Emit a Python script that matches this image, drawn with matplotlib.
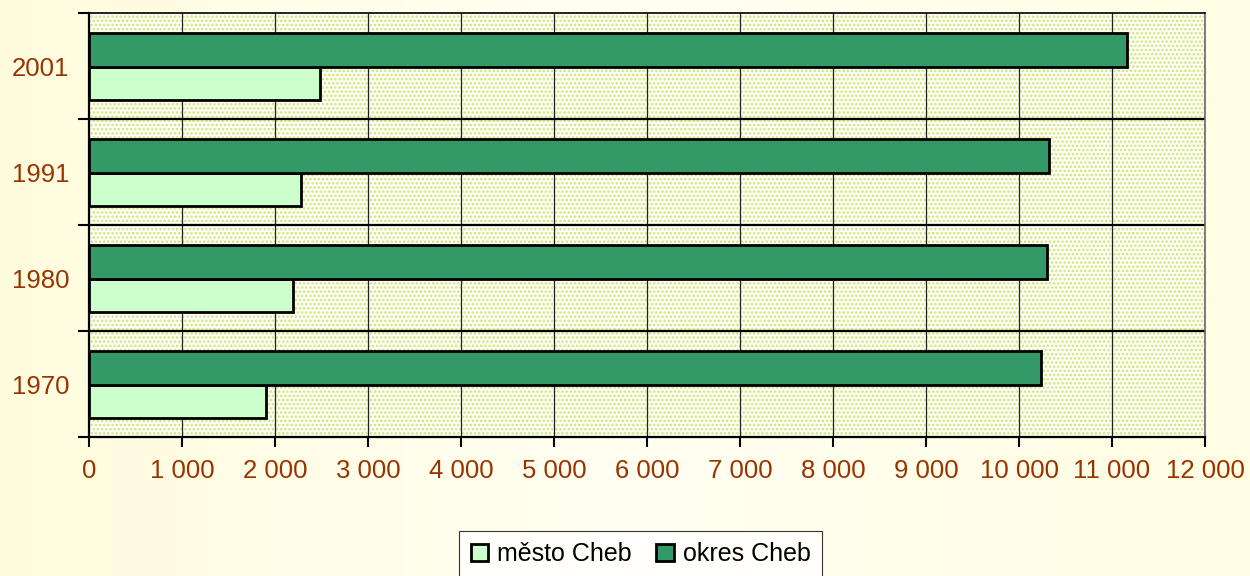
import matplotlib
matplotlib.use("Agg")
import matplotlib.pyplot as plt
from matplotlib.patches import Rectangle
from matplotlib.colors import LinearSegmentedColormap
import numpy as np

years = ["1970", "1980", "1991", "2001"]
mesto = [1905, 2195, 2280, 2485]
okres = [10240, 10300, 10325, 11160]
series_names = ["město Cheb", "okres Cheb"]
xticks = list(range(0, 12001, 1000))
xtick_labels = ["0" if v == 0 else f"{v // 1000} 000" for v in xticks]

plt.rcParams['font.family'] = ['Liberation Sans', 'DejaVu Sans']
plt.rcParams['hatch.linewidth'] = 1.2

fig = plt.figure(figsize=(12.5, 5.76), dpi=100)
fig.patch.set_facecolor('#fffff0')
grad = np.linspace(0, 1, 256).reshape(1, -1)
bg = fig.add_axes([0, 0, 1, 1], zorder=-10)
cm = LinearSegmentedColormap.from_list('bg', ['#fffcde', '#fffff2', '#fffde2'])
bg.imshow(grad, aspect='auto', cmap=cm, extent=[0, 1, 0, 1])
bg.axis('off')

ax = fig.add_axes([89/1250, 1 - 437/576, (1205-89)/1250, (437-13)/576])
ax.set_facecolor('#fdfef6')
ax.add_patch(Rectangle((0, 0), 1, 1, transform=ax.transAxes, facecolor='#fdfef6',
                       edgecolor='#cfe47a', linewidth=0, hatch='....', zorder=0))

y = np.arange(len(years))
h = 0.32
ax.barh(y - 0.165, mesto, height=h, color='#ccffcc', edgecolor='black', linewidth=2.0, zorder=3, label=series_names[0])
ax.barh(y + 0.155, okres, height=h, color='#339966', edgecolor='black', linewidth=2.0, zorder=3, label=series_names[1])

ax.set_xlim(0, 12000)
ax.set_ylim(-0.5, 3.5)
ax.set_xticks(xticks)
ax.set_xticklabels(xtick_labels, color='#993300', fontsize=18.5)
ax.set_yticks(y)
ax.set_yticklabels(years, color='#993300', fontsize=18.5)
ax.tick_params(axis='y', length=0, pad=14)
ax.set_yticks(np.arange(-0.5, 3.6, 1), minor=True)
ax.tick_params(axis='y', which='minor', length=8, width=1.5, color='black')
ax.tick_params(axis='x', length=7, width=1.5, color='black', pad=9)

for xv in xticks[1:-1]:
    ax.axvline(xv, color='#222222', linewidth=0.9, zorder=1)
for yv in np.arange(0.5, 3.0, 1):
    ax.axhline(yv, color='black', linewidth=1.6, zorder=1)

ax.spines['left'].set_linewidth(1.6)
ax.spines['bottom'].set_linewidth(1.6)
ax.spines['top'].set_linewidth(1.2)
ax.spines['right'].set_color('#666666')
ax.spines['right'].set_linewidth(1.2)

leg = fig.legend(loc='upper center', bbox_to_anchor=(640.5/1250, 1 - 531/576), ncol=2, frameon=True,
                 fontsize=18, handlelength=0.7, handleheight=0.7, handletextpad=0.35,
                 columnspacing=1.0, fancybox=False, borderpad=0.45, borderaxespad=0)
leg.get_frame().set_edgecolor('black')
leg.get_frame().set_linewidth(0.8)
leg.get_frame().set_facecolor('white')

fig.savefig('out.png', dpi=100, facecolor=fig.get_facecolor())
